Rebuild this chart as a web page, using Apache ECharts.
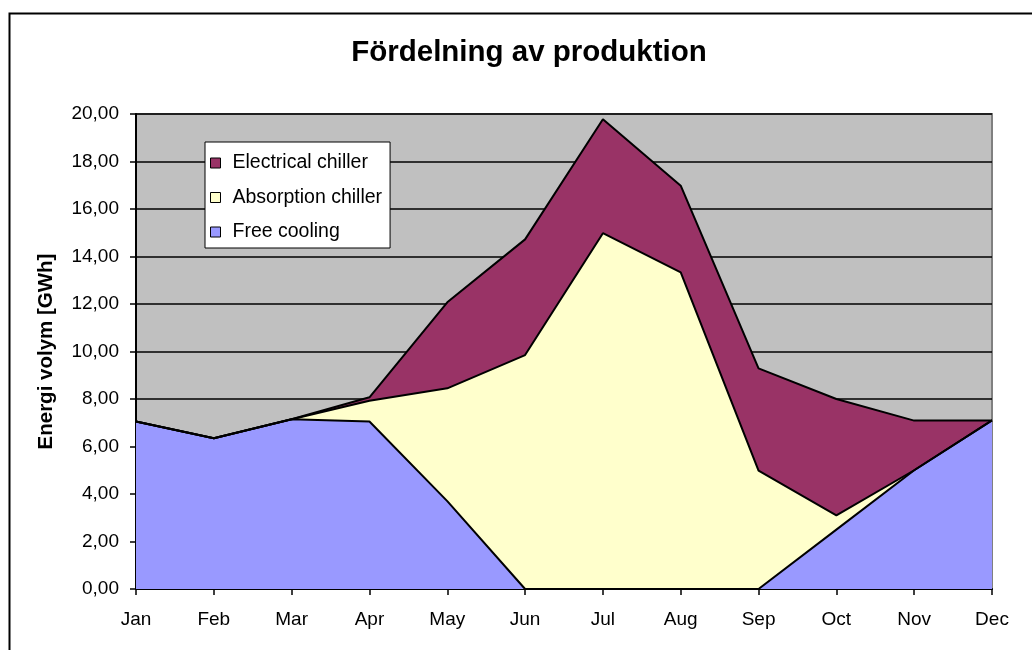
<!DOCTYPE html>
<html>
<head>
<meta charset="utf-8">
<script src="https://cdn.jsdelivr.net/npm/echarts@6/dist/echarts.min.js"></script>
<style>html,body{margin:0;padding:0;background:#fff}#c{width:1032px;height:650px}</style>
</head>
<body>
<div id="c"></div>
<script>
var categories = ['Jan','Feb','Mar','Apr','May','Jun','Jul','Aug','Sep','Oct','Nov','Dec'];
var freeCooling = [7.05, 6.35, 7.15, 7.05, 3.7, 0, 0, 0, 0, 2.5, 5.0, 7.1];
var absorptionChiller = [0, 0, 0, 0.88, 4.75, 9.85, 14.98, 13.33, 4.98, 0.6, 0, 0];
var electricalChiller = [0, 0, 0, 0.14, 3.62, 4.87, 4.8, 3.65, 4.31, 4.9, 2.09, 0];
var yTicks = ['0,00','2,00','4,00','6,00','8,00','10,00','12,00','14,00','16,00','18,00','20,00'];

var chart = echarts.init(document.getElementById('c'));
var font = 'Liberation Sans, Arial, sans-serif';
function areaSeries(name, data, color) {
  return {
    name: name, type: 'line', stack: 'total', data: data,
    symbol: 'none', smooth: false,
    lineStyle: {color: '#000', width: 2},
    areaStyle: {color: color, opacity: 1},
    itemStyle: {color: color, borderColor: '#000', borderWidth: 1}
  };
}
chart.setOption({
  animation: false,
  textStyle: {fontFamily: font},
  graphic: [
    {type: 'rect', left: 7, top: 11, shape: {width: 1100, height: 700}, style: {fill: 'none', stroke: '#000', lineWidth: 2}, z: -10},
    {type: 'text', x: 529, y: 53, style: {text: 'Fördelning av produktion', font: 'bold 29.5px ' + font, fill: '#000', textAlign: 'center', textVerticalAlign: 'middle'}}
  ],
  grid: {left: 136, top: 114, right: 40, bottom: 61, show: true, backgroundColor: '#C0C0C0', borderColor: '#808080', borderWidth: 2},
  legend: {
    orient: 'vertical', left: 205, top: 142,
    data: ['Electrical chiller', 'Absorption chiller', 'Free cooling'],
    icon: 'rect', itemWidth: 10, itemHeight: 10, itemGap: 14.5,
    padding: [11, 8, 6, 5],
    backgroundColor: '#fff', borderColor: '#000', borderWidth: 1,
    itemStyle: {borderColor: '#000', borderWidth: 1},
    textStyle: {fontSize: 19.5, color: '#000', lineHeight: 20, padding: [0, 0, 0, 7], fontFamily: font}
  },
  xAxis: {
    type: 'category', data: categories, boundaryGap: false,
    axisLine: {lineStyle: {color: '#000', width: 2}},
    axisTick: {show: true, length: 6, lineStyle: {color: '#000', width: 1.5}, alignWithLabel: true},
    axisLabel: {color: '#000', fontSize: 19, margin: 21, fontFamily: font},
    splitLine: {show: false}
  },
  yAxis: {
    type: 'value', min: 0, max: 20, interval: 2,
    name: 'Energi volym [GWh]', nameLocation: 'middle', nameGap: 79,
    nameTextStyle: {fontSize: 20.5, fontWeight: 'bold', color: '#000', fontFamily: font},
    axisLine: {show: true, lineStyle: {color: '#000', width: 2}},
    axisTick: {show: true, length: 6, lineStyle: {color: '#000', width: 1.5}},
    axisLabel: {color: '#000', fontSize: 19, margin: 17, fontFamily: font,
      formatter: function (v) { return yTicks[Math.round(v / 2)]; }},
    splitLine: {show: true, lineStyle: {color: '#000', width: 1.5}}
  },
  series: [
    areaSeries('Free cooling', freeCooling, '#9999FF'),
    areaSeries('Absorption chiller', absorptionChiller, '#FFFFCC'),
    areaSeries('Electrical chiller', electricalChiller, '#993366')
  ]
});
</script>
</body>
</html>
